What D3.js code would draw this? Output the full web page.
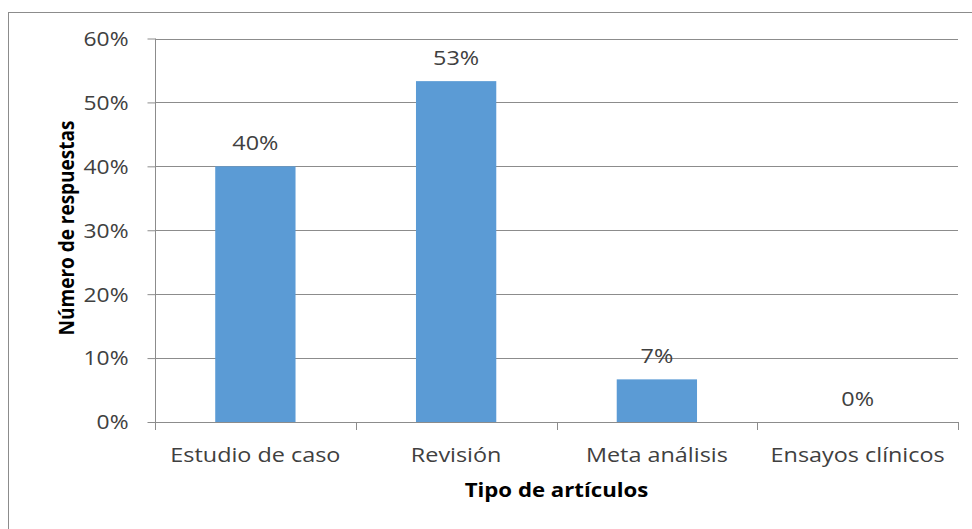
<!DOCTYPE html>
<html><head><meta charset="utf-8">
<script src="https://cdn.jsdelivr.net/npm/d3@7"></script>
<style>html,body{margin:0;padding:0;background:#fff;}svg{display:block;}</style>
</head><body>
<svg id="c" width="972" height="529"></svg>
<script>
const categories = ["Estudio de caso", "Revisión", "Meta análisis", "Ensayos clínicos"];
const values = [0.40, 0.5333, 0.0667, 0.0];
const valueLabels = ["40%", "53%", "7%", "0%"];
const yTicks = [0, 0.1, 0.2, 0.3, 0.4, 0.5, 0.6];
const xTitle = "Tipo de artículos";
const yTitle = "Número de respuestas";

const SX = 1.17; // horizontal stretch of the reference glyphs
const font = "'Open Sans', sans-serif";
const svg = d3.select("#c");

// outer frame (only left/top visible in crop)
svg.append("rect").attr("x", 8.5).attr("y", 12.5).attr("width", 1000).attr("height", 600)
  .attr("fill", "none").attr("stroke", "#8c8c8c").attr("stroke-width", 1);

const x = d3.scaleBand().domain(categories).range([155, 958]).paddingInner(0.6).paddingOuter(0.3);
const y = d3.scaleLinear().domain([0, 0.6]).range([422, 38.5]);

// gridlines
svg.append("g").selectAll("line").data(yTicks.slice(1)).join("line")
  .attr("x1", 155).attr("x2", 958)
  .attr("y1", d => Math.round(y(d)) + 0.5).attr("y2", d => Math.round(y(d)) + 0.5)
  .attr("stroke", "#8c8c8c").attr("stroke-width", 1);

// bars
svg.append("g").selectAll("rect").data(values).join("rect")
  .attr("x", (d, i) => x(categories[i]))
  .attr("width", x.bandwidth())
  .attr("y", d => y(d))
  .attr("height", d => y(0) - y(d))
  .attr("fill", "#5b9bd5");

// y axis
const yAxis = d3.axisLeft(y).tickValues(yTicks).tickSize(8).tickFormat(d3.format(".0%"));
const gy = svg.append("g").attr("transform", "translate(155.5,0)").call(yAxis);
gy.select(".domain").attr("stroke", "#8c8c8c").attr("d", "M0,422V" + y(0.6) + "M0,422V430");
gy.selectAll(".tick line").attr("stroke", "#8c8c8c");
gy.selectAll(".tick text").each(function(d) {
  const t = d3.select(this);
  t.attr("x", null).attr("dy", null)
   .attr("transform", `translate(-27,${0}) scale(${SX},1)`)
   .attr("dy", "0.35em")
   .attr("font-family", font).attr("font-size", 19.5).attr("fill", "#404040");
});

// x axis
const tickPos = d3.range(categories.length + 1).map(i => 155 + i * x.step());
const gx = svg.append("g");
gx.append("line").attr("x1", 155).attr("x2", 958).attr("y1", 422.5).attr("y2", 422.5).attr("stroke", "#8c8c8c");
gx.selectAll("line.t").data(tickPos).join("line").attr("class", "t")
  .attr("x1", d => Math.round(d) + 0.5).attr("x2", d => Math.round(d) + 0.5)
  .attr("y1", 422).attr("y2", 430).attr("stroke", "#8c8c8c");
gx.selectAll("text").data(categories).join("text")
  .attr("transform", d => `translate(${x(d) + x.bandwidth() / 2},462) scale(${SX},1)`)
  .attr("text-anchor", "middle").attr("font-family", font).attr("font-size", 20)
  .attr("fill", "#404040").text(d => d);

// value labels
svg.append("g").selectAll("text").data(values).join("text")
  .attr("transform", (d, i) => `translate(${x(categories[i]) + x.bandwidth() / 2},${y(d) - 16}) scale(${SX},1)`)
  .attr("text-anchor", "middle").attr("font-family", font).attr("font-size", 20)
  .attr("fill", "#404040").text((d, i) => valueLabels[i]);

// axis titles
svg.append("text")
  .attr("transform", `translate(556.5,497) scale(${SX},1)`)
  .attr("text-anchor", "middle").attr("font-family", font).attr("font-size", 19).attr("font-weight", "bold")
  .attr("fill", "#000").text(xTitle);
svg.append("text")
  .attr("transform", `translate(74,228) rotate(-90) scale(1,${SX})`)
  .attr("text-anchor", "middle").attr("font-family", font).attr("font-size", 19).attr("font-weight", "bold")
  .attr("fill", "#000").text(yTitle);
</script>
</body></html>
